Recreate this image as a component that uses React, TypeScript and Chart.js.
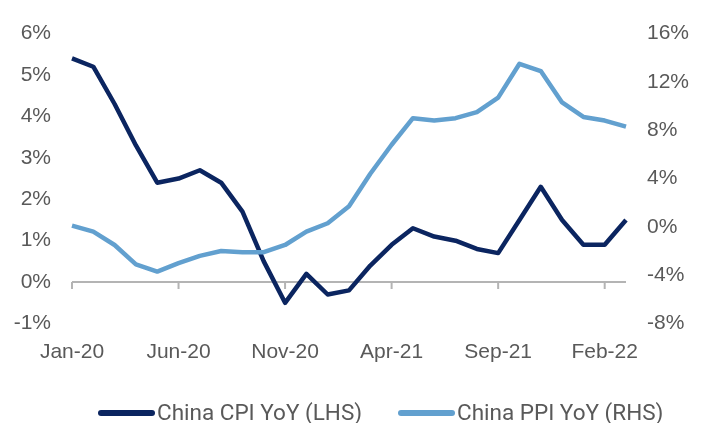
import React, { useEffect, useRef } from "react";
import { Chart, registerables } from "chart.js";

Chart.register(...registerables);

const months = [
  "Jan-20", "Feb-20", "Mar-20", "Apr-20", "May-20", "Jun-20", "Jul-20", "Aug-20", "Sep-20",
  "Oct-20", "Nov-20", "Dec-20", "Jan-21", "Feb-21", "Mar-21", "Apr-21", "May-21", "Jun-21",
  "Jul-21", "Aug-21", "Sep-21", "Oct-21", "Nov-21", "Dec-21", "Jan-22", "Feb-22", "Mar-22",
];

const cpiYoY = [5.4, 5.2, 4.3, 3.3, 2.4, 2.5, 2.7, 2.4, 1.7, 0.5, -0.5, 0.2, -0.3, -0.2, 0.4, 0.9, 1.3, 1.1, 1.0, 0.8, 0.7, 1.5, 2.3, 1.5, 0.9, 0.9, 1.5];
const ppiYoY = [0.1, -0.4, -1.5, -3.1, -3.7, -3.0, -2.4, -2.0, -2.1, -2.1, -1.5, -0.4, 0.3, 1.7, 4.4, 6.8, 9.0, 8.8, 9.0, 9.5, 10.7, 13.5, 12.9, 10.3, 9.1, 8.8, 8.3];

const seriesNames = ["China CPI YoY (LHS)", "China PPI YoY (RHS)"];
const seriesColors = ["#0b2560", "#62a0cf"];

const tickEvery = 5;
const leftRange = [-1, 6, 1];
const rightRange = [-8, 16, 4];

const TICK_FONT = { family: "'Liberation Sans', Arial, sans-serif", size: 21 };
const TEXT_COLOR = "#595959";

const zeroAxisPlugin = {
  id: "zeroAxis",
  beforeDatasetsDraw(chart: any) {
    const { ctx, chartArea, scales } = chart;
    const y0 = scales.yL.getPixelForValue(0);
    ctx.save();
    ctx.strokeStyle = "#b4b4b4";
    ctx.lineWidth = 2;
    ctx.beginPath();
    ctx.moveTo(chartArea.left, y0);
    ctx.lineTo(chartArea.right, y0);
    for (let i = 0; i < months.length; i += tickEvery) {
      const x = scales.x.getPixelForValue(i);
      ctx.moveTo(x, y0);
      ctx.lineTo(x, y0 + 7);
    }
    ctx.stroke();
    ctx.restore();
  },
};

export default function App() {
  const ref = useRef<HTMLCanvasElement | null>(null);

  useEffect(() => {
    if (!ref.current) return;
    const chart = new Chart(ref.current, {
      type: "line",
      data: {
        labels: months,
        datasets: [
          {
            label: seriesNames[0],
            data: cpiYoY,
            yAxisID: "yL",
            borderColor: seriesColors[0],
            backgroundColor: seriesColors[0],
            borderWidth: 4.5,
            pointRadius: 0,
            tension: 0,
            borderJoinStyle: "round",
            order: 1,
          },
          {
            label: seriesNames[1],
            data: ppiYoY,
            yAxisID: "yR",
            borderColor: seriesColors[1],
            backgroundColor: seriesColors[1],
            borderWidth: 4.5,
            pointRadius: 0,
            tension: 0,
            borderJoinStyle: "round",
            order: 0,
          },
        ],
      },
      options: {
        responsive: false,
        animation: false,
        layout: { padding: { top: 25.5, bottom: 0, left: 0, right: 0 } },
        plugins: { legend: { display: false }, tooltip: { enabled: false } },
        scales: {
          x: {
            type: "category",
            offset: false,
            grid: { display: false, drawTicks: false },
            border: { display: false },
            ticks: {
              autoSkip: false,
              maxRotation: 0,
              minRotation: 0,
              padding: 16,
              color: TEXT_COLOR,
              font: TICK_FONT,
              callback: (_v: any, i: number) => (i % tickEvery === 0 ? months[i] : ""),
            },
            afterFit: (s: any) => {
              s.height = 99.5;
            },
          },
          yL: {
            position: "left",
            min: leftRange[0],
            max: leftRange[1],
            grid: { display: false, drawTicks: false },
            border: { display: false },
            ticks: {
              stepSize: leftRange[2],
              padding: 21,
              color: TEXT_COLOR,
              font: TICK_FONT,
              callback: (v: any) => `${v}%`,
            },
            afterFit: (s: any) => {
              s.width = 72;
            },
          },
          yR: {
            position: "right",
            min: rightRange[0],
            max: rightRange[1],
            grid: { display: false, drawTicks: false },
            border: { display: false },
            ticks: {
              stepSize: rightRange[2],
              padding: 21,
              color: TEXT_COLOR,
              font: TICK_FONT,
              callback: (v: any) => `${v}%`,
            },
            afterFit: (s: any) => {
              s.width = 79;
            },
          },
        },
      },
      plugins: [zeroAxisPlugin],
    } as any);
    return () => chart.destroy();
  }, []);

  const legendItems = [
    { left: 98, lineW: 57, text: seriesNames[0], color: seriesColors[0] },
    { left: 398, lineW: 57, text: seriesNames[1], color: seriesColors[1] },
  ];

  return (
    <div style={{ position: "fixed", left: 0, top: 0, width: 705, height: 423, background: "#fff" }}>
      <canvas ref={ref} width={705} height={423} style={{ display: "block", width: 705, height: 423 }} />
      {legendItems.map((it, i) => (
        <div key={i}>
          <div
            style={{
              position: "absolute",
              left: it.left,
              top: 409.7,
              width: it.lineW,
              height: 6,
              borderRadius: 3,
              background: it.color,
            }}
          />
          <div
            style={{
              position: "absolute",
              left: it.left + it.lineW + 2,
              top: 399.4,
              fontFamily: "Roboto, sans-serif",
              fontSize: 22.5,
              lineHeight: "26.4px",
              color: TEXT_COLOR,
              whiteSpace: "nowrap",
            }}
          >
            {it.text}
          </div>
        </div>
      ))}
    </div>
  );
}
